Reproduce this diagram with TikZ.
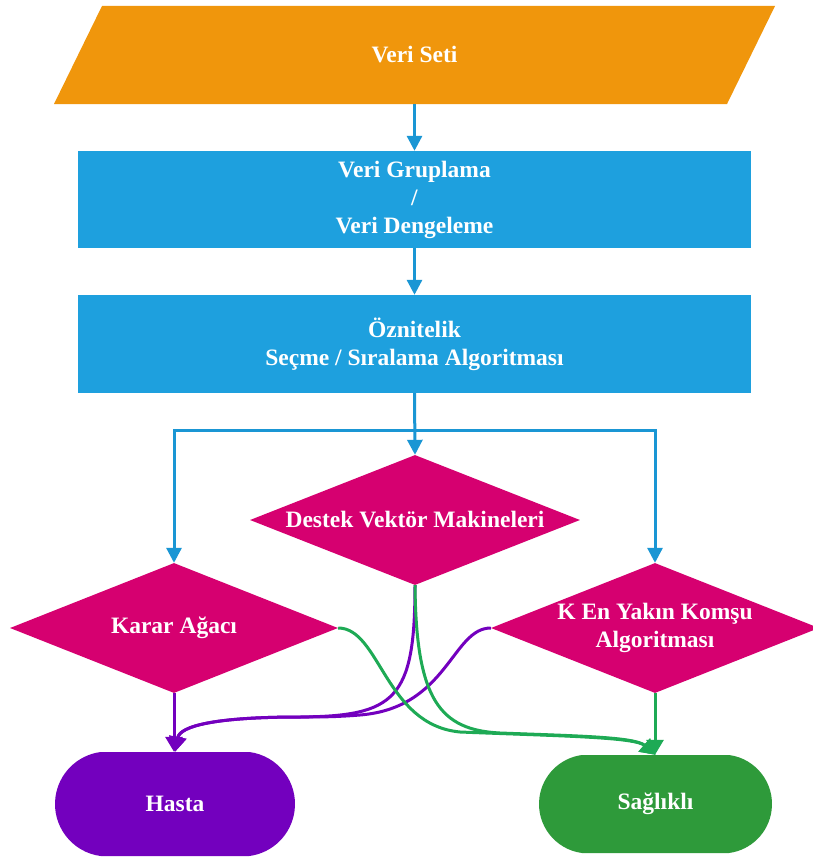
\documentclass[tikz,border=0pt]{standalone}
\usepackage{fontspec}
\setmainfont{Liberation Serif}
\usetikzlibrary{shapes.geometric,shapes.misc,arrows.meta}
\definecolor{cOrange}{RGB}{240,150,12}
\definecolor{cBox}{RGB}{30,160,222}
\definecolor{cLine}{RGB}{26,150,212}
\definecolor{cMag}{RGB}{214,0,112}
\definecolor{cPur}{RGB}{115,0,190}
\definecolor{cGrn}{RGB}{46,154,58}
\definecolor{cGrnL}{RGB}{30,170,85}
\begin{document}
\begin{tikzpicture}[x=1pt,y=-1pt,
  lbl/.style={font=\fontsize{23.5}{28}\selectfont\bfseries, text=white, align=center},
  procbox/.style={lbl, rectangle, fill=cBox, minimum width=673pt, minimum height=97pt, inner sep=0pt},
  decision/.style={lbl, diamond, fill=cMag, minimum width=328pt, minimum height=130pt, inner sep=0pt, aspect=2.5},
  term/.style={lbl, rounded rectangle, rounded rectangle arc length=165, inner sep=0pt},
  flow/.style={cLine, line width=3pt, -{Triangle[length=15pt,width=15pt]}},
  purflow/.style={cPur, line width=3pt, -{Triangle[length=15pt,width=17pt]}},
  grnflow/.style={cGrnL, line width=3pt, -{Triangle[length=15pt,width=17pt]}}
]
\fill[white] (0,0) rectangle (812,859);
\useasboundingbox (0,0) rectangle (812,859);

% input parallelogram
\fill[cOrange] (102,6) -- (775,6) -- (727,104) -- (54,104) -- cycle;
\node[lbl, minimum width=673pt, minimum height=98pt, inner sep=0pt] (veri) at (414.5,55) {Veri Seti};

% process boxes
\node[procbox] (grup) at (414.5,199.5) {Veri Gruplama\\/\\Veri Dengeleme};
\node[procbox, minimum height=98pt] (ozn) at (414.5,344) {Öznitelik\\Seçme / Sıralama Algoritması};

% decisions
\node[decision, minimum width=330pt] (dvm) at (415,520) {Destek Vektör Makineleri};
\node[decision] (karar) at (174,628) {Karar Ağacı};
\node[decision] (knn) at (655,628) {K En Yakın Komşu\\Algoritması};

% terminals
\node[term, fill=cPur, minimum width=240pt, minimum height=104pt] (hasta) at (175,804) {Hasta};
\node[term, fill=cGrn, minimum width=233pt, minimum height=98pt] (saglikli) at (655.5,804) {Sağlıklı};

% blue flow
\coordinate (split) at (414.5,430);
\draw[flow] (veri.south) -- (grup.north);
\draw[flow] (grup.south) -- (ozn.north);
\draw[flow] (ozn.south) -- (dvm.north);
\draw[flow] (split) -| (karar.north);
\draw[flow] (split) -| (knn.north);

% purple (Hasta)
\coordinate (pj) at (300,717);
\draw[purflow] (karar.south) -- (karar.south |- hasta.north);
\draw[purflow] (dvm.south) .. controls (415,700) and (395,716) .. (pj)
  .. controls (215,717) and (180,726) .. (hasta.north);
\draw[purflow] (knn.west) .. controls (452,628) and (448,708) .. (360,715)
  .. controls (335,717) and (320,717) .. (pj)
  .. controls (215,717) and (180,726) .. (hasta.north);

% green (Saglikli)
\draw[grnflow] (karar.east) .. controls (380,628) and (385,725) .. (460,732)
  .. controls (560,736) and (635,737) .. (saglikli.north);
\draw[grnflow] (dvm.south) .. controls (416,700) and (440,730) .. (500,733)
  .. controls (580,736) and (635,737) .. (saglikli.north);
\draw[grnflow] (knn.south) -- (knn.south |- saglikli.north);
\end{tikzpicture}
\end{document}
